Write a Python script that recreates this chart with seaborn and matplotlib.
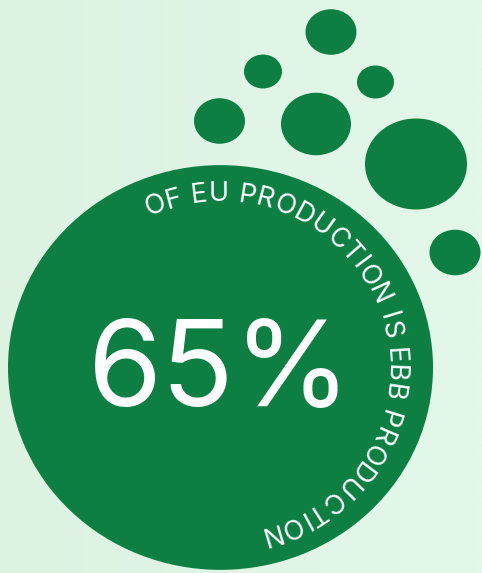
import numpy as np
import matplotlib.pyplot as plt
import seaborn as sns
from matplotlib.path import Path
from matplotlib.markers import MarkerStyle
from matplotlib.transforms import Affine2D
from matplotlib.font_manager import FontProperties, findfont, get_font

# bubbles around the big circle (centre x, centre y, width, in picture pixels)
bubble_x = [331, 263, 375.5, 219.5, 316, 416, 455]
bubble_y = [32, 71.5, 82, 121, 124, 164, 252.5]
bubble_w = [51, 38, 37, 51, 70, 102, 51]

# the big circle
big_x = [219.5]
big_y = [367]
big_w = [425]

headline = "65%"
ring_text = "OF EU PRODUCTION IS EBB PRODUCTION"

GREEN = "#0d7f43"
W, H, DPI = 482, 573, 100

sns.set_style("white")
plt.rcParams['font.family'] = ['Inter', 'DejaVu Sans']

fig = plt.figure(figsize=(W / DPI, H / DPI), dpi=DPI)
ax = fig.add_axes([0, 0, 1, 1])

# light mint background, a bit greener on the right
grad = np.linspace(0, 1, 64)
left = np.array([221, 242, 225]) / 255
right = np.array([227, 248, 233]) / 255
bg = left[None, None, :] * (1 - grad[None, :, None]) + right[None, None, :] * grad[None, :, None]
ax.imshow(bg, extent=[0, W, H, 0], aspect='auto', zorder=0, interpolation='bilinear')

def ellipse_marker(ratio):
    return MarkerStyle(Path.unit_circle().transformed(Affine2D().scale(ratio, 1)))

pt = 72 / DPI
sns.scatterplot(x=bubble_x, y=bubble_y, s=[(w * pt) ** 2 for w in bubble_w],
                marker=ellipse_marker(1.12), color=GREEN, linewidth=0,
                legend=False, ax=ax, zorder=2)
sns.scatterplot(x=big_x, y=big_y, s=[(w * pt) ** 2 for w in big_w],
                marker=ellipse_marker(1.05), color=GREEN, linewidth=0,
                legend=False, ax=ax, zorder=2)

ax.text(220, 406, headline, color="white", fontsize=86, ha='center', va='baseline', zorder=3)

# text running round the circle, clockwise
ring_size = 19.5
prop = FontProperties(family=['Inter', 'DejaVu Sans'], size=ring_size)
font = get_font(findfont(prop))
font.set_size(ring_size, DPI)
adv = np.array([font.load_char(ord(c)).linearHoriAdvance / 65536 for c in ring_text])
centres = np.cumsum(adv) - adv / 2
centres = centres - centres[0]
n = len(ring_text)
t0, t1 = np.deg2rad(111.5), np.deg2rad(-73.5)
r_mid = 177
k = ((t0 - t1) * r_mid - centres[-1]) / (n - 1)
pos = centres + k * np.arange(n)
theta = t0 - (t0 - t1) * pos / pos[-1]
a, b = 168, 166
for ch, th in zip(ring_text, theta):
    if ch == " ":
        continue
    x = big_x[0] + a * np.cos(th)
    y = big_y[0] - b * np.sin(th)
    ax.text(x, y, ch, color="white", fontproperties=prop, ha='center', va='baseline',
            rotation=np.rad2deg(th) - 90, rotation_mode='anchor', zorder=3)

ax.set_xlim(0, W)
ax.set_ylim(H, 0)
ax.axis('off')
fig.savefig("out.png", dpi=DPI)
